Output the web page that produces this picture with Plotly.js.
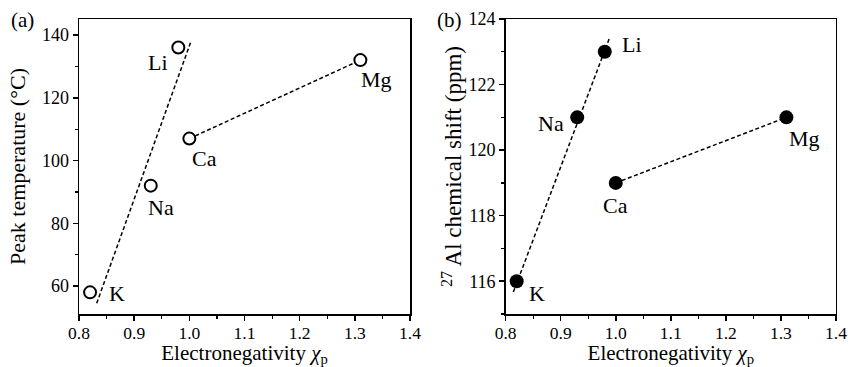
<!DOCTYPE html>
<html>
<head>
<meta charset="utf-8">
<script src="https://cdn.plot.ly/plotly-3.0.1.min.js"></script>
<style>html,body{margin:0;padding:0;background:#fff;}#chart{width:848px;height:367px;}</style>
</head>
<body>
<div id="chart"></div>
<script>
// Data
const elements = ['K', 'Na', 'Li', 'Ca', 'Mg'];
const electronegativity = [0.82, 0.93, 0.98, 1.00, 1.31];
const peakTemperature = [58, 92, 136, 107, 132];
const alShift = [116, 121, 123, 119, 121];

// Guide lines
const fitA_x = [0.832, 1.002];
const fitA_y = [54.5, 137.5];
const fitB_x = [0.814, 0.9895];
const fitB_y = [115.67, 123.46];
const caMgIdx = [3, 4];

// label offsets (px) [dx, dy-down]
const offsA = {K: [27, 1], Na: [10, 22], Li: [-20, 15], Ca: [15, 20], Mg: [16, 19]};
const offsB = {K: [20, 12], Na: [-26, 6], Li: [27, -7], Ca: [0, 23], Mg: [18, 21]};

const FONT = '"Liberation Serif", "Times New Roman", serif';
const dashStyle = {color: '#000', width: 1.5, dash: '4px,2.5px'};

const traces = [
  {x: fitA_x, y: fitA_y, mode: 'lines', line: dashStyle, xaxis: 'x', yaxis: 'y'},
  {x: caMgIdx.map(i => electronegativity[i]), y: caMgIdx.map(i => peakTemperature[i]), mode: 'lines', line: dashStyle, xaxis: 'x', yaxis: 'y'},
  {x: electronegativity, y: peakTemperature, mode: 'markers', xaxis: 'x', yaxis: 'y',
   marker: {symbol: 'circle', size: 12, color: '#fff', line: {color: '#000', width: 2}}},
  {x: fitB_x, y: fitB_y, mode: 'lines', line: dashStyle, xaxis: 'x2', yaxis: 'y2'},
  {x: caMgIdx.map(i => electronegativity[i]), y: caMgIdx.map(i => alShift[i]), mode: 'lines', line: dashStyle, xaxis: 'x2', yaxis: 'y2'},
  {x: electronegativity, y: alShift, mode: 'markers', xaxis: 'x2', yaxis: 'y2',
   marker: {symbol: 'circle', size: 14, color: '#000', line: {color: '#000', width: 0}}}
];

const annotations = [];
elements.forEach((el, i) => {
  annotations.push({x: electronegativity[i], y: peakTemperature[i], xref: 'x', yref: 'y', text: el, showarrow: false,
    xshift: offsA[el][0], yshift: -offsA[el][1], font: {family: FONT, size: 22, color: '#000'}});
  annotations.push({x: electronegativity[i], y: alShift[i], xref: 'x2', yref: 'y2', text: el, showarrow: false,
    xshift: offsB[el][0], yshift: -offsB[el][1], font: {family: FONT, size: 22, color: '#000'}});
});
annotations.push({xref: 'paper', yref: 'paper', x: 0.011, y: 0.985, xanchor: 'left', yanchor: 'top', text: '(a)', showarrow: false, font: {family: FONT, size: 21, color: '#000'}});
annotations.push({xref: 'paper', yref: 'paper', x: 0.513, y: 0.985, xanchor: 'left', yanchor: 'top', text: '(b)', showarrow: false, font: {family: FONT, size: 21, color: '#000'}});

function xax(domain) {
  return {
    domain: domain, range: [0.8, 1.4], dtick: 0.1, tick0: 0.8, tickformat: '.1f',
    showline: true, mirror: true, linecolor: '#000', linewidth: 1.5,
    ticks: 'outside', ticklen: 5, tickwidth: 1.5, tickcolor: '#000',
    minor: {dtick: 0.05, ticks: 'outside', ticklen: 3, tickwidth: 1.2, tickcolor: '#000'},
    showgrid: false, zeroline: false, ticklabelstandoff: -3,
    tickfont: {family: FONT, size: 17.5, color: '#000'},
    title: {text: 'Electronegativity <i>χ</i><sub>p</sub>', font: {family: FONT, size: 21, color: '#000'}, standoff: 6}
  };
}
function yax(range, dtick, minorD, title, size, standoff) {
  return {
    domain: [0.1444, 0.9482], range: range, dtick: dtick,
    showline: true, mirror: true, linecolor: '#000', linewidth: 1.5,
    ticks: 'outside', ticklen: 5, tickwidth: 1.5, tickcolor: '#000',
    minor: {dtick: minorD, ticks: 'outside', ticklen: 3, tickwidth: 1.2, tickcolor: '#000'},
    showgrid: false, zeroline: false,
    tickfont: {family: FONT, size: 18, color: '#000'},
    title: {text: title, font: {family: FONT, size: size, color: '#000'}, standoff: standoff}
  };
}

const layout = {
  width: 848, height: 367,
  margin: {l: 0, r: 0, t: 0, b: 0},
  paper_bgcolor: '#fff', plot_bgcolor: '#fff',
  showlegend: false,
  xaxis: Object.assign(xax([0.0932, 0.4835]), {anchor: 'y'}),
  yaxis: Object.assign(yax([51.1, 145.1], 20, 10, 'Peak temperature (°C)', 22, 10), {anchor: 'x'}),
  xaxis2: Object.assign(xax([0.5963, 0.9858]), {anchor: 'y2'}),
  yaxis2: Object.assign(yax([115.0, 124.0], 2, 1, '<sup>27</sup> Al chemical shift (ppm)', 23, 0), {anchor: 'x2'}),
  annotations: annotations
};

Plotly.newPlot('chart', traces, layout, {staticPlot: true, displayModeBar: false});
</script>
</body>
</html>
